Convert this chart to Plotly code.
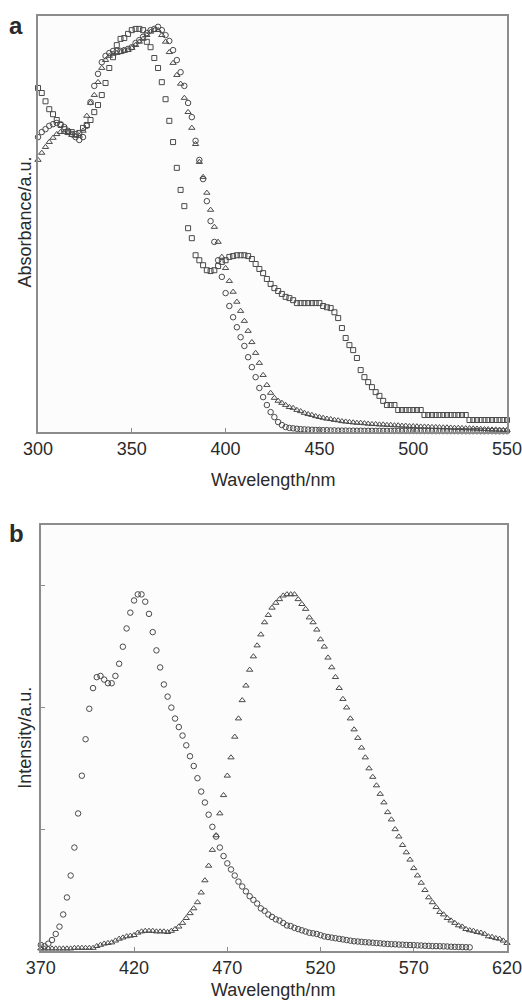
import plotly.graph_objects as go

# panel a: absorbance, sampled every 2 nm from 300 to 550 nm
wl_abs = list(range(300, 551, 2))

abs_square = [
    82.7, 81.5, 79.5, 77.6, 76.4, 75.0, 73.8, 72.8, 72.1, 72.1,
    71.6, 71.9, 73.1, 73.8, 75.0, 76.9, 78.6, 81.0, 83.9, 87.5,
    90.1, 93.0, 94.5, 94.7, 95.7, 96.6, 96.9, 96.9, 96.6, 93.8,
    92.5, 89.9, 87.5, 84.1, 80.0, 74.8, 69.7, 63.5, 58.2, 54.3,
    49.0, 46.6, 42.5, 41.3, 40.1, 38.9, 38.7, 38.9, 39.9, 40.9,
    41.3, 42.1, 42.3, 42.5, 42.5, 42.5, 42.3, 41.6, 40.4, 39.2,
    38.2, 36.8, 35.6, 34.6, 33.9, 33.2, 32.5, 32.2, 31.7, 31.0,
    31.0, 31.0, 31.0, 31.0, 31.0, 31.0, 30.3, 30.0, 29.8, 28.8,
    27.4, 25.0, 22.6, 20.9, 19.7, 17.8, 14.9, 13.2, 12.0, 10.8,
    9.6, 8.7, 7.5, 6.5, 6.5, 6.5, 5.3, 5.3, 5.3, 5.3,
    5.3, 5.3, 5.3, 4.1, 4.1, 4.1, 4.1, 4.1, 4.1, 4.1,
    4.1, 4.1, 4.1, 4.1, 4.1, 2.9, 2.9, 2.9, 2.9, 2.9,
    2.9, 2.9, 2.9, 2.9, 2.9, 2.9,
]

abs_circle = [
    70.9, 72.1, 72.8, 73.6, 74.0, 74.3, 74.0, 73.3, 72.4, 71.6,
    70.9, 70.2, 70.9, 73.6, 79.3, 83.2, 86.1, 88.9, 90.4, 91.1,
    91.6, 91.6, 91.6, 91.8, 92.1, 92.5, 93.5, 94.2, 95.0, 95.9,
    96.6, 96.9, 97.4, 96.6, 95.4, 94.0, 91.8, 89.4, 86.5, 83.2,
    79.1, 75.7, 70.0, 65.4, 60.8, 55.5, 50.7, 45.7, 41.3, 37.3,
    33.4, 30.3, 27.6, 25.2, 22.8, 20.7, 18.0, 15.6, 13.2, 10.6,
    8.4, 6.5, 4.8, 3.6, 2.4, 1.7, 1.2, 1.0, 0.9, 0.8,
    0.7, 0.65, 0.6, 0.55, 0.5, 0.5, 0.45, 0.45, 0.4, 0.4,
    0.35, 0.35, 0.35, 0.33, 0.33, 0.32, 0.32, 0.3, 0.3, 0.3,
    0.29, 0.29, 0.28, 0.28, 0.28, 0.27, 0.27, 0.27, 0.26, 0.26,
    0.26, 0.25, 0.25, 0.25, 0.25, 0.24, 0.24, 0.24, 0.24, 0.23,
    0.23, 0.23, 0.23, 0.22, 0.22, 0.22, 0.22, 0.22, 0.21, 0.21,
    0.21, 0.21, 0.2, 0.2, 0.2, 0.2,
]

abs_triangle = [
    65.4, 67.1, 68.5, 69.7, 70.7, 71.6, 72.1, 72.1, 71.9, 71.4,
    71.2, 71.2, 72.4, 76.0, 79.1, 81.0, 84.1, 87.5, 89.4, 90.4,
    90.9, 91.1, 91.3, 91.6, 91.8, 92.3, 93.0, 93.8, 94.5, 95.4,
    96.2, 96.6, 96.6, 95.4, 93.8, 91.3, 88.7, 85.8, 83.7, 80.3,
    76.9, 73.1, 69.2, 64.9, 61.3, 57.5, 53.4, 49.3, 45.7, 42.1,
    39.4, 36.3, 33.7, 31.3, 29.1, 26.7, 24.3, 21.6, 19.0, 16.6,
    13.7, 11.3, 9.4, 8.2, 7.5, 7.0, 6.5, 6.0, 5.8, 5.3,
    5.0, 4.6, 4.3, 4.1, 3.8, 3.6, 3.4, 3.2, 3.1, 2.9,
    2.8, 2.6, 2.5, 2.4, 2.3, 2.2, 2.2, 2.1, 2.0, 1.9,
    1.9, 1.8, 1.8, 1.7, 1.7, 1.6, 1.6, 1.5, 1.5, 1.4,
    1.4, 1.35, 1.3, 1.3, 1.25, 1.2, 1.2, 1.15, 1.1, 1.1,
    1.05, 1.0, 1.0, 0.95, 0.9, 0.9, 0.85, 0.8, 0.75, 0.7,
    0.65, 0.6, 0.6, 0.55, 0.5, 0.5,
]

# panel b: emission, sampled every 2 nm
wl_em_circle = list(range(370, 601, 2))
wl_em_triangle = list(range(370, 621, 2))

em_circle = [
    0.05, 0.04, 0.06, 0.09, 0.14, 0.2, 0.3, 0.44, 0.62, 0.85,
    1.13, 1.44, 1.74, 1.99, 2.16, 2.25, 2.26, 2.23, 2.2, 2.2,
    2.26, 2.36, 2.5, 2.65, 2.78, 2.88, 2.93, 2.93, 2.87, 2.77,
    2.62, 2.47, 2.33, 2.19, 2.09, 2.0, 1.91, 1.84, 1.77, 1.69,
    1.6, 1.52, 1.42, 1.31, 1.22, 1.12, 1.02, 0.94, 0.85, 0.78,
    0.72, 0.67, 0.62, 0.57, 0.53, 0.49, 0.45, 0.42, 0.39, 0.35,
    0.33, 0.3, 0.28, 0.26, 0.25, 0.23, 0.21, 0.205, 0.19, 0.18,
    0.17, 0.16, 0.15, 0.145, 0.14, 0.13, 0.12, 0.115, 0.11, 0.105,
    0.1, 0.095, 0.09, 0.085, 0.08, 0.078, 0.075, 0.072, 0.07, 0.068,
    0.065, 0.063, 0.06, 0.058, 0.056, 0.055, 0.053, 0.052, 0.05, 0.049,
    0.048, 0.046, 0.045, 0.043, 0.042, 0.04, 0.04, 0.039, 0.038, 0.037,
    0.035, 0.034, 0.033, 0.032, 0.031, 0.03,
]

em_triangle = [
    0.02, 0.02, 0.02, 0.02, 0.02, 0.02, 0.02, 0.02, 0.02, 0.025,
    0.025, 0.025, 0.025, 0.025, 0.025, 0.04, 0.05, 0.06, 0.065, 0.07,
    0.085, 0.1, 0.11, 0.12, 0.125, 0.13, 0.15, 0.16, 0.165, 0.165,
    0.165, 0.16, 0.16, 0.16, 0.155, 0.165, 0.18, 0.2, 0.23, 0.27,
    0.31, 0.35, 0.4, 0.48, 0.58, 0.7, 0.83, 0.95, 1.13, 1.28,
    1.44, 1.59, 1.76, 1.91, 2.06, 2.18, 2.31, 2.42, 2.51, 2.6,
    2.7, 2.76, 2.82, 2.86, 2.89, 2.92, 2.93, 2.93, 2.93, 2.89,
    2.85, 2.81, 2.74, 2.7, 2.64, 2.56, 2.5, 2.41, 2.33, 2.25,
    2.16, 2.07, 2.0, 1.91, 1.82, 1.75, 1.67, 1.59, 1.5, 1.43,
    1.36, 1.29, 1.22, 1.14, 1.08, 1.0, 0.94, 0.87, 0.81, 0.75,
    0.68, 0.62, 0.56, 0.5, 0.44, 0.4, 0.36, 0.32, 0.3, 0.27,
    0.25, 0.23, 0.21, 0.2, 0.18, 0.17, 0.165, 0.155, 0.15, 0.14,
    0.12, 0.115, 0.105, 0.1, 0.085, 0.065,
]

abs_ticks = [300, 350, 400, 450, 500, 550]
em_ticks = [370, 420, 470, 520, 570, 620]

MARK = "#4a4a4a"
FRAME = "#8c8c8c"
TXT = "#2a2a2a"
FONT = "Liberation Sans, Arial, sans-serif"


def open_marker(symbol, size):
    # open symbols take their stroke colour from marker.color
    return dict(symbol=symbol, size=size, color=MARK, line=dict(width=1))


fig = go.Figure()
fig.add_trace(go.Scatter(x=wl_abs, y=abs_square, mode="markers", cliponaxis=False,
                         marker=open_marker("square-open", 5), xaxis="x", yaxis="y"))
fig.add_trace(go.Scatter(x=wl_abs, y=abs_triangle, mode="markers", cliponaxis=False,
                         marker=open_marker("triangle-up-open", 5.5), xaxis="x", yaxis="y"))
fig.add_trace(go.Scatter(x=wl_abs, y=abs_circle, mode="markers", cliponaxis=False,
                         marker=open_marker("circle-open", 5.5), xaxis="x", yaxis="y"))
fig.add_trace(go.Scatter(x=wl_em_triangle, y=em_triangle, mode="markers", cliponaxis=False,
                         marker=open_marker("triangle-up-open", 5.5), xaxis="x2", yaxis="y2"))
fig.add_trace(go.Scatter(x=wl_em_circle, y=em_circle, mode="markers", cliponaxis=False,
                         marker=open_marker("circle-open", 5.5), xaxis="x2", yaxis="y2"))

frame = dict(showline=True, mirror=True, linecolor=FRAME, linewidth=1.5,
             showgrid=False, zeroline=False, automargin=False)
tickstyle = dict(ticks="inside", ticklen=4, tickcolor=FRAME, tickwidth=1,
                 ticklabeloverflow="allow",
                 tickfont=dict(size=18, color=TXT, family=FONT))

fig.update_layout(
    width=522, height=1007,
    margin=dict(l=38, r=15, t=16, b=56),
    paper_bgcolor="white", plot_bgcolor="#fcfcfc",
    showlegend=False,
    font=dict(family=FONT, color=TXT),
    xaxis=dict(domain=[0, 1], range=[300, 550], tickvals=abs_ticks,
               anchor="y", **frame, **tickstyle),
    yaxis=dict(domain=[0.555, 1], range=[0, 100], showticklabels=False,
               anchor="x", **frame),
    xaxis2=dict(domain=[0.006, 1], range=[370, 620], tickvals=em_ticks,
                anchor="y2", **frame, **tickstyle),
    yaxis2=dict(domain=[0, 0.4556], range=[0, 3.5], tickvals=[1, 2, 3],
                showticklabels=False, anchor="x2", **frame,
                ticks="inside", ticklen=4, tickcolor=FRAME),
)

labels = [
    dict(text="<b>a</b>", x=-0.047, y=0.99, size=24, angle=0),
    dict(text="<b>b</b>", x=-0.045, y=0.446, size=24, angle=0),
    dict(text="Absorbance/a.u.", x=-0.028, y=0.78, size=18, angle=-90),
    dict(text="Intensity/a.u.", x=-0.028, y=0.228, size=18, angle=-90),
    dict(text="Wavelength/nm", x=0.5, y=0.504, size=18, angle=0),
    dict(text="Wavelength/nm", x=0.5, y=-0.042, size=18, angle=0),
]
for lab in labels:
    fig.add_annotation(text=lab["text"], x=lab["x"], y=lab["y"], xref="paper", yref="paper",
                       xanchor="center", yanchor="middle", showarrow=False,
                       textangle=lab["angle"], font=dict(size=lab["size"], color=TXT, family=FONT))

fig.write_html("out.html", config={"displayModeBar": False},
               post_script="document.body.style.margin='0';document.body.style.overflow='hidden';")
